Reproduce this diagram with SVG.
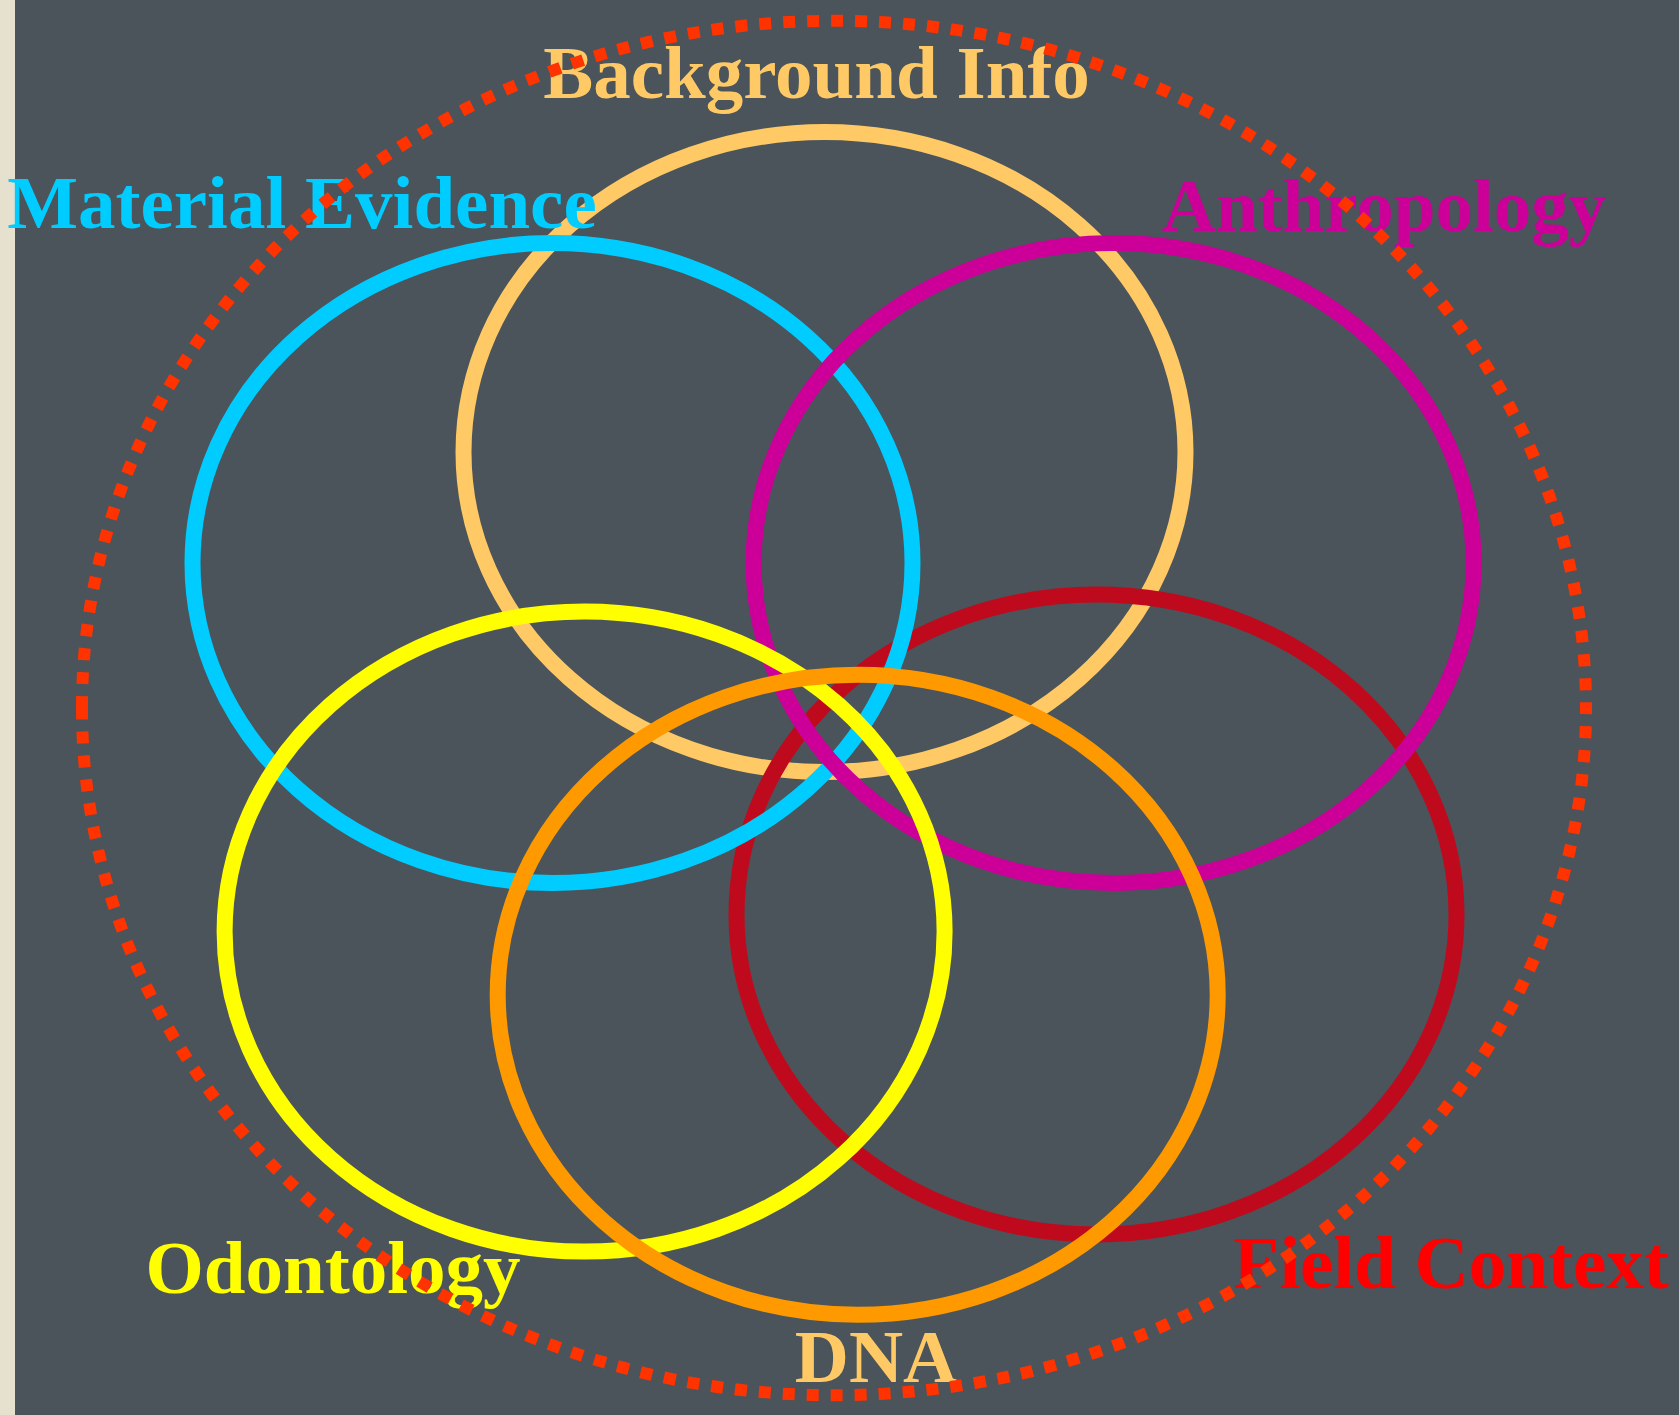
<svg xmlns="http://www.w3.org/2000/svg" width="1679" height="1415" viewBox="0 0 1679 1415">
<style>
.ring{fill:none;stroke-width:16}
.lbl{font-family:"Liberation Serif","Times New Roman",serif;font-weight:bold;font-size:75px;text-anchor:middle}
.outer{fill:none;stroke:#FF3300;stroke-width:12;stroke-dasharray:12 12}
</style>
<rect x="0" y="0" width="1679" height="1415" fill="#E6E0CE"/>
<rect x="15" y="0" width="1664" height="1415" fill="#4A545A"/>
<g id="background-info">
<ellipse class="ring" cx="824.5" cy="452" rx="361" ry="320" stroke="#FFC966"/>
<text class="lbl" x="816.5" y="98" fill="#FFC966">Background Info</text>
</g>
<g id="field-context">
<ellipse class="ring" cx="1096.5" cy="914.5" rx="360" ry="320" stroke="#BF0A1E"/>
<text class="lbl" x="1451" y="1288" fill="#FF0000">Field Context</text>
</g>
<g id="material-evidence">
<ellipse class="ring" cx="552.5" cy="563" rx="360" ry="320" stroke="#00CCFF"/>
<text class="lbl" x="302" y="228" fill="#00CCFF">Material Evidence</text>
</g>
<g id="anthropology">
<ellipse class="ring" cx="1113.6" cy="563" rx="360" ry="320" stroke="#CC0099"/>
<text class="lbl" x="1384" y="231" fill="#CC0099">Anthropology</text>
</g>
<g id="odontology">
<ellipse class="ring" cx="584.6" cy="931.6" rx="360" ry="320" stroke="#FFFF00"/>
<text class="lbl" x="333" y="1293" fill="#FFFF00">Odontology</text>
</g>
<g id="dna">
<ellipse class="ring" cx="857.7" cy="994.8" rx="360" ry="320" stroke="#FF9900"/>
<text class="lbl" x="876" y="1382" fill="#FFC966">DNA</text>
</g>
<g id="connectors">
<path class="outer" d="M82,708 A752,687 0 1,1 1586,708 A752,687 0 1,1 82,708 Z"/>
</g>
</svg>
